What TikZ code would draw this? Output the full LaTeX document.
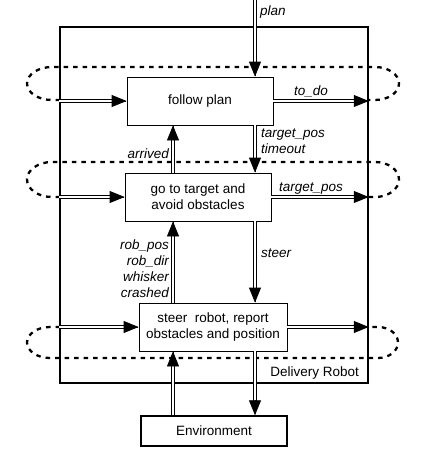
\documentclass[tikz,border=0pt]{standalone}
\usepackage{fontspec}
\setmainfont{Liberation Sans}
\usetikzlibrary{arrows.meta,calc}
\newcommand\dbarrow[2]{%
  \draw[dline] (#1) -- (#2);
  \draw[dtip] ($(#2)!1pt!(#1)$) -- (#2);}
\begin{document}
\begin{tikzpicture}[x=1pt,y=-1pt,
  txt/.style={font=\fontsize{13.5}{16}\selectfont},
  box/.style={txt, draw, line width=0.8pt, minimum width=146pt, minimum height=48pt, align=center, inner sep=0pt},
  outerbox/.style={draw, line width=1.5pt, minimum width=308pt, minimum height=356pt, inner sep=0pt},
  lab/.style={font=\fontsize{13.5}{16}\selectfont\itshape, inner sep=0pt},
  dline/.style={double, double distance=2pt, line width=0.8pt, shorten >=10pt},
  dtip/.style={-{Triangle[length=15pt,width=12pt]}, line width=0.8pt},
  dashloop/.style={line width=2.3pt, dash pattern=on 4.5pt off 5pt}]
\useasboundingbox (0,0) rectangle (444,458);

% frame and boxes
\node[outerbox] (dr) at (214,205) {};
\node[box] (fp) at (200,101) {follow plan};
\node[box] (gt) at (198,197) {go to target and\\avoid obstacles};
\node[box, minimum width=148pt] (sr) at (213,327) {steer\ \ robot, report\\obstacles and position};
\node[box, line width=1.5pt, minimum height=30pt] (env) at (214,431) {Environment};

% dashed loops
\draw[dashloop] (60,100) -- (52,100) arc[start angle=270, end angle=90, x radius=25pt, y radius=16.5pt]
  -- (375,67) arc[start angle=90, end angle=-90, x radius=24pt, y radius=16.5pt] -- (368,100);
\draw[dashloop] (60,197) -- (52,197) arc[start angle=270, end angle=90, x radius=25pt, y radius=17.5pt]
  -- (375,162) arc[start angle=90, end angle=-90, x radius=24pt, y radius=17.5pt] -- (368,197);
\draw[dashloop] (60,327) -- (50,327) arc[start angle=90, end angle=270, x radius=23pt, y radius=15.5pt]
  -- (378,358) arc[start angle=-90, end angle=90, x radius=20pt, y radius=15.5pt] -- (368,327);

% coordinates
\coordinate (dx) at (255,0);
\coordinate (ux) at (173,0);

% arrows
\dbarrow{dx}{dx |- fp.north}
\dbarrow{dr.west |- fp.west}{fp.west}
\dbarrow{fp.east}{dr.east |- fp.east}
\dbarrow{fp.south -| dx}{gt.north -| dx}
\dbarrow{gt.north -| ux}{fp.south -| ux}
\dbarrow{dr.west |- gt.west}{gt.west}
\dbarrow{gt.east}{dr.east |- gt.east}
\dbarrow{sr.north -| ux}{gt.south -| ux}
\dbarrow{gt.south -| dx}{sr.north -| dx}
\dbarrow{dr.west |- sr.west}{sr.west}
\dbarrow{sr.east}{dr.east |- sr.east}
\dbarrow{env.north -| ux}{sr.south -| ux}
\dbarrow{sr.south -| dx}{env.north -| dx}

% labels
\node[lab, anchor=west] (lplan) at (260,12) {plan};
\node[lab] (ltodo) at (311,91) {to\_do};
\node[lab, anchor=west, align=left] (ltp) at (261,141) {target\_pos\\timeout};
\node[lab, anchor=east] (larr) at (169,154) {arrived};
\node[lab] (ltp2) at (311,189) {target\_pos};
\node[lab, anchor=east, align=right] (lrob) at (169,269) {rob\_pos\\rob\_dir\\whisker\\crashed};
\node[lab, anchor=west] (lsteer) at (261,253) {steer};
\node[txt, anchor=east, inner sep=0pt] (ldr) at (359,373) {Delivery Robot};
\end{tikzpicture}
\end{document}
